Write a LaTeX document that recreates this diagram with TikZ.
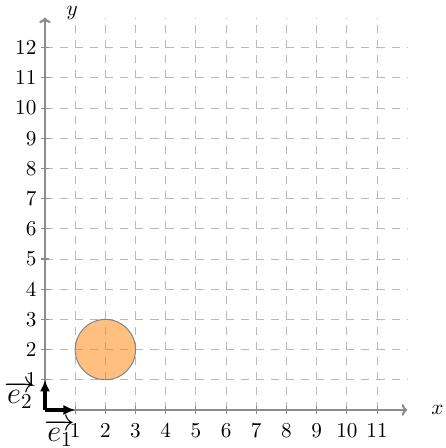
\documentclass[tikz,border=0pt]{standalone}
\usetikzlibrary{arrows.meta}
\begin{document}
\begin{tikzpicture}[x=0.5cm,y=0.5cm,
  gridline/.style={gray!55,line width=0.45pt,dash pattern=on 3.8pt off 3.3pt},
  axisline/.style={gray!110!black,line width=1pt,-{To[length=2.6pt,width=5.5pt]}},
  tickmark/.style={gray!110!black,line width=0.5pt},
  unitvec/.style={black,line width=1.5pt,-{Latex[length=5.5pt,width=4.8pt]}},
  veclabel/.style={font=\Large,inner sep=0pt},
  ticklabel/.style={inner sep=0pt}]
\useasboundingbox (-1.49,-1.26) rectangle (13.28,13.58);
% grid
\foreach \i in {1,...,11} \draw[gridline] (\i,0) -- (\i,13);
\foreach \j in {1,...,12} \draw[gridline] (0,\j) -- (12,\j);
% circle
\node[circle,draw=gray,fill=orange,fill opacity=0.5,minimum size=1cm,inner sep=0pt,line width=0.45pt] (disc) at (2,2) {};
% axes
\coordinate (O) at (0,0);
\coordinate (xend) at (12,0);
\coordinate (yend) at (0,13);
\draw[axisline] (O) -- (xend);
\draw[axisline] (O) -- (yend);
\node (xlab) at (13.0,0) {$x$};
\node (ylab) at (0.9,13.15) {$y$};
% ticks
\foreach \i in {1,...,11} {
  \draw[tickmark] (\i,-0.12) -- (\i,0.12);
  \node[ticklabel] (xl\i) at (\i,-0.68) {$\i$};
}
\foreach \j in {1,...,12} {
  \draw[tickmark] (-0.12,\j) -- (0.12,\j);
  \node[ticklabel,anchor=east] (yl\j) at (-0.27,\j) {$\j$};
}
% unit vectors
\coordinate (e1end) at (1,0);
\coordinate (e2end) at (0,1);
\draw[unitvec] (O) -- (e1end);
\draw[unitvec] (O) -- (e2end);
\node[veclabel] (e1lab) at (0.5,-0.76) {$\overrightarrow{e_1}$};
\node[veclabel] (e2lab) at (-0.83,0.5) {$\overrightarrow{e_2}$};
\end{tikzpicture}
\end{document}
